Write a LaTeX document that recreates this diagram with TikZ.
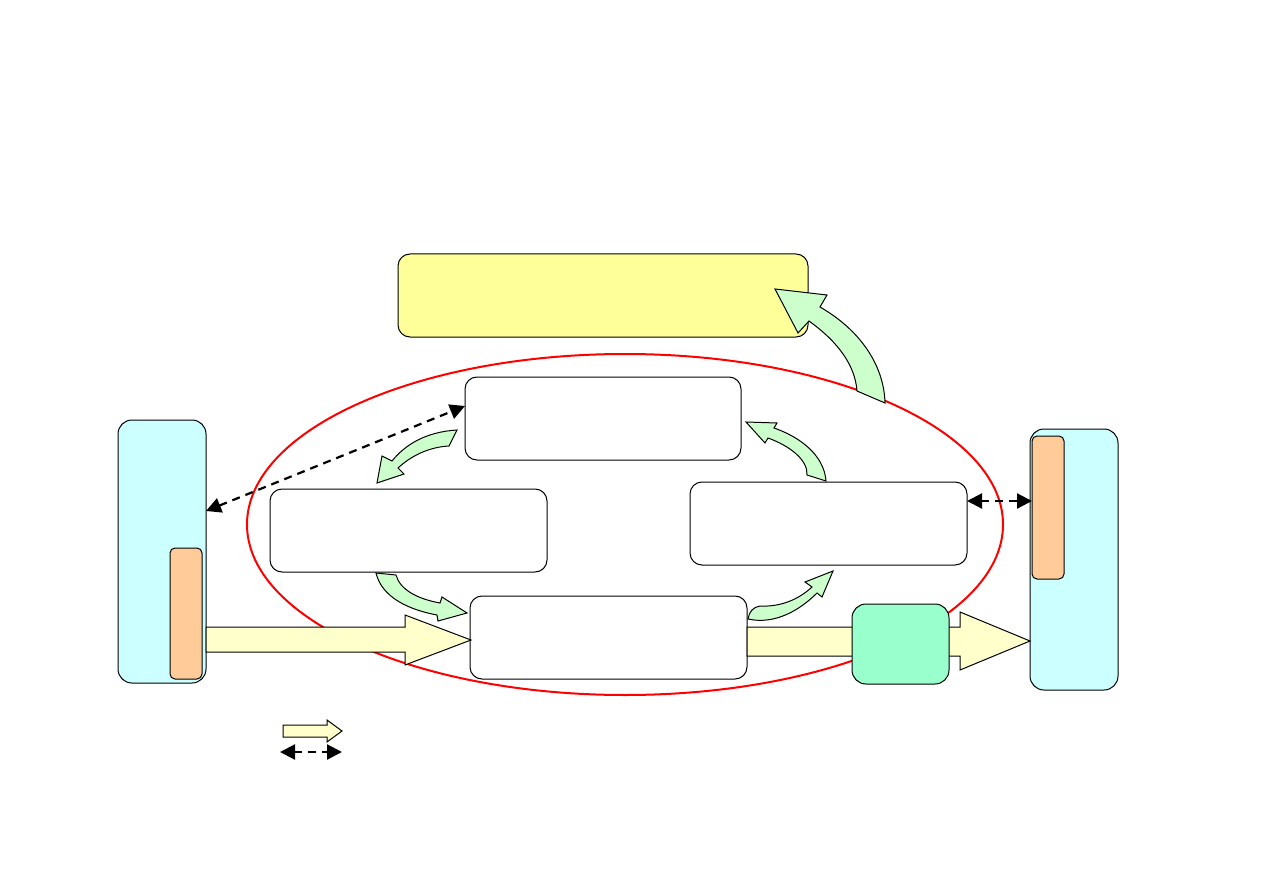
\documentclass[tikz,border=0pt]{standalone}
\usetikzlibrary{arrows.meta}
\definecolor{ylwbox}{HTML}{FFFF99}
\definecolor{ylwarrow}{HTML}{FFFFCC}
\definecolor{grnarrow}{HTML}{CCFFCC}
\definecolor{cyanbox}{HTML}{CCFFFF}
\definecolor{orgbox}{HTML}{FFCC99}
\definecolor{grnbox}{HTML}{99FFCC}
\begin{document}
\begin{tikzpicture}[x=1pt,y=-1pt,
  base/.style={draw=black,line width=1pt,inner sep=0pt,outer sep=0pt},
  wbox/.style={base,fill=white,rounded corners=12pt,minimum width=277pt,minimum height=83pt},
  ybox/.style={base,fill=ylwbox,rounded corners=12pt,minimum width=410pt,minimum height=83pt},
  cbox/.style={base,fill=cyanbox,rounded corners=14pt,minimum width=88pt},
  obox/.style={base,fill=orgbox,rounded corners=5pt,minimum width=32pt},
  gbox/.style={base,fill=grnbox,rounded corners=14pt,minimum width=97pt,minimum height=80pt},
  bigarrow/.style={draw=black,line width=1pt,fill=ylwarrow,line join=miter},
  curvarrow/.style={draw=black,line width=1pt,fill=grnarrow,line join=miter},
  dasharrow/.style={line width=2.2pt,dash pattern=on 8pt off 6pt,{Triangle[length=15pt,width=15pt]}-{Triangle[length=15pt,width=15pt]}}
]
\useasboundingbox (0,0) rectangle (1263,893);
\fill[white] (0,0) rectangle (1263,893);

% red ellipse
\draw[red,line width=2pt] (625,524.5) ellipse [x radius=378pt, y radius=170.5pt];

% boxes
\node[ybox] (yel) at (603,295.5) {};
\node[wbox,minimum width=276pt] (top) at (603,418.5) {};
\node[wbox] (lm) at (408.5,530.5) {};
\node[wbox] (rm) at (828.5,523.5) {};
\node[wbox] (bot) at (608.5,637.5) {};

% left and right cyan boxes
\node[cbox,minimum height=263pt] (lcyan) at (162,551.5) {};
\node[obox,minimum height=131pt] (lor) at (186,613.5) {};
\node[cbox,minimum height=261pt] (rcyan) at (1074,559.5) {};
\node[obox,minimum height=143pt] (ror) at (1048,507.5) {};

% big flow arrows
\draw[bigarrow] (206,627) -- (405,627) -- (405,615) -- (471,640) -- (405,665) -- (405,652) -- (206,652) -- cycle;
\draw[bigarrow] (747,627) -- (960,627) -- (960,612) -- (1030,641) -- (960,670) -- (960,656) -- (747,656) -- cycle;
\node[gbox] (grn) at (900.5,644) {};

% curved green arrows
% top box -> left middle box
\draw[curvarrow] (457,430) .. controls (425,432) and (405,445) .. (392,461)
  -- (382,456) -- (377,483) -- (404,474) -- (398,468)
  .. controls (412,455) and (430,447) .. (449,446) -- cycle;
% right middle box -> top box
\draw[curvarrow] (826,481) .. controls (824,455) and (800,437) .. (774,428)
  -- (777,423) -- (746,422) -- (765,443) -- (768,438)
  .. controls (790,446) and (808,460) .. (807,475) -- cycle;
% left middle box -> bottom box
\draw[curvarrow] (376,573) .. controls (382,598) and (410,610) .. (437,615)
  -- (438,621) -- (467,613) -- (442,597) -- (440,603)
  .. controls (418,599) and (400,590) .. (396,575) -- cycle;
% bottom box -> right middle box
\draw[curvarrow] (748,619) .. controls (775,625) and (800,610) .. (817,593)
  -- (822,597) -- (833,571) -- (805,582) -- (812,587)
  .. controls (798,600) and (780,607) .. (760,606) .. controls (753,607) and (749,612) .. (748,619) -- cycle;
% ellipse -> yellow box
\draw[curvarrow] (885,403) .. controls (884,365) and (860,330) .. (820,307)
  -- (827,295) -- (775,289) -- (798,333) -- (809,321)
  .. controls (838,342) and (855,365) .. (857,391) -- cycle;

% dashed two-way connectors
\draw[dasharrow] ([yshift=40.5pt]lcyan.east) -- ([yshift=12.5pt]top.west);
\draw[dasharrow] ([yshift=22.5pt]rm.east) -- ([yshift=22.5pt]rm.east -| ror.west);

% legend
\draw[bigarrow] (283,725) -- (327,725) -- (327,720) -- (342,731) -- (327,742) -- (327,737) -- (283,737) -- cycle;
\coordinate (lga) at (280,752);
\coordinate (lgb) at (342,752);
\draw[dasharrow] (lga) -- (lgb);
\end{tikzpicture}
\end{document}
